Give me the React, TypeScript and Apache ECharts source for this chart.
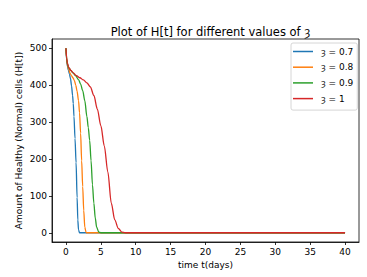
import React, { useEffect, useRef } from "react";
import * as echarts from "echarts";

const SYM = "ȝ";
const TITLE = `Plot of H[t] for different values of ${SYM}`;
const X_NAME = "time t(days)";
const Y_NAME = "Amount of Healthy (Normal) cells (H[t])";

const X_TICKS = [0, 5, 10, 15, 20, 25, 30, 35, 40];
const Y_TICKS = [0, 100, 200, 300, 400, 500];

const seriesNames = [`${SYM} = 0.7`, `${SYM} = 0.8`, `${SYM} = 0.9`, `${SYM} = 1`];
const seriesColors = ["#1f77b4", "#ff7f0e", "#2ca02c", "#d62728"];

const tA = [0, 0.1, 0.2, 0.35, 0.5, 0.65, 0.8, 0.95, 1.05, 1.15, 1.3, 1.45, 1.6, 1.7, 1.8, 1.95, 40];
const vA = [500, 468, 452, 440, 430, 418, 398, 372, 350, 315, 255, 190, 95, 35, 8, 0, 0];

const tB = [0, 0.1, 0.2, 0.4, 0.6, 0.8, 1.0, 1.2, 1.4, 1.6, 1.8, 1.95, 2.1, 2.25, 2.4, 2.55, 2.7, 2.9, 40];
const vB = [500, 470, 455, 442, 432, 425, 420, 413, 400, 383, 358, 325, 270, 195, 125, 60, 15, 0, 0];

const tC = [0, 0.1, 0.2, 0.4, 0.7, 1.0, 1.4, 1.8, 2.1, 2.4, 2.7, 3.0, 3.2, 3.4, 3.6, 3.8, 4.0, 4.2, 4.4, 4.7, 5.0, 40];
const vC = [500, 472, 458, 447, 440, 433, 425, 415, 403, 385, 358, 315, 285, 250, 195, 130, 80, 40, 15, 2, 0, 0];

const tD = [0, 0.1, 0.2, 0.4, 0.7, 1.0, 1.5, 2.0, 2.5, 3.0, 3.5, 4.0, 4.5, 5.0, 5.5, 6.0, 6.5, 7.0, 7.5, 8.0, 8.5, 40];
const vD = [500, 474, 460, 448, 440, 434, 426, 420, 414, 406, 395, 372, 335, 290, 235, 165, 80, 35, 12, 2, 0, 0];

const allT = [tA, tB, tC, tD];
const allV = [vA, vB, vC, vD];

const FONT = "DejaVu Sans";

export default function App() {
  const ref = useRef<HTMLDivElement>(null);
  useEffect(() => {
    if (!ref.current) return;
    const chart = echarts.init(ref.current, undefined, { renderer: "svg" });
    chart.setOption({
      animation: false,
      backgroundColor: "#ffffff",
      textStyle: { fontFamily: FONT },
      title: {
        text: TITLE,
        left: 205.5,
        top: 21,
        textAlign: "center",
        textStyle: { fontFamily: FONT, fontSize: 11.5, fontWeight: "normal", color: "#000" },
      },
      legend: {
        orient: "vertical",
        left: 291,
        top: 43,
        icon: "rect",
        itemWidth: 20,
        itemHeight: 1.5,
        itemGap: 4.7,
        padding: [3, 4, 6, 2],
        borderColor: "#cccccc",
        borderWidth: 0.8,
        borderRadius: 2,
        backgroundColor: "rgba(255,255,255,0.8)",
        textStyle: { fontFamily: FONT, fontSize: 9, color: "#000", lineHeight: 11, padding: [0, 0, 0, 3] },
        data: seriesNames,
      },
      grid: {
        left: 52,
        top: 39,
        right: 8,
        bottom: 35,
        show: true,
        borderColor: "#000",
        borderWidth: 0.8,
        backgroundColor: "transparent",
      },
      xAxis: {
        type: "value",
        min: -2,
        max: 42,
        name: X_NAME,
        nameLocation: "middle",
        nameGap: 18,
        nameMoveOverlap: false,
        nameTextStyle: { fontFamily: FONT, fontSize: 9, color: "#000" },
        axisLine: { show: true, onZero: false, lineStyle: { color: "#000", width: 0.8 } },
        axisTick: { show: true, length: 3, customValues: X_TICKS, lineStyle: { color: "#000", width: 0.8 } },
        axisLabel: { customValues: X_TICKS, margin: 5, fontFamily: FONT, fontSize: 9, color: "#000" },
        splitLine: { show: false },
      },
      yAxis: {
        type: "value",
        min: -25,
        max: 525,
        name: Y_NAME,
        nameLocation: "middle",
        nameGap: 29,
        nameMoveOverlap: false,
        nameTextStyle: { fontFamily: FONT, fontSize: 9, color: "#000" },
        axisLine: { show: true, onZero: false, lineStyle: { color: "#000", width: 0.8 } },
        axisTick: { show: true, length: 3, customValues: Y_TICKS, lineStyle: { color: "#000", width: 0.8 } },
        axisLabel: { customValues: Y_TICKS, margin: 5, fontFamily: FONT, fontSize: 9, color: "#000" },
        splitLine: { show: false },
      },
      series: seriesNames.map((name, i) => ({
        name,
        type: "line",
        data: allT[i].map((t, j) => [t, allV[i][j]]),
        showSymbol: false,
        symbol: "none",
        smooth: 0.3,
        smoothMonotone: "x",
        color: seriesColors[i],
        lineStyle: { width: 1.3, color: seriesColors[i] },
      })),
    });
    return () => chart.dispose();
  }, []);
  return <div ref={ref} style={{ position: "fixed", left: 0, top: 0, width: 367, height: 277 }} />;
}
